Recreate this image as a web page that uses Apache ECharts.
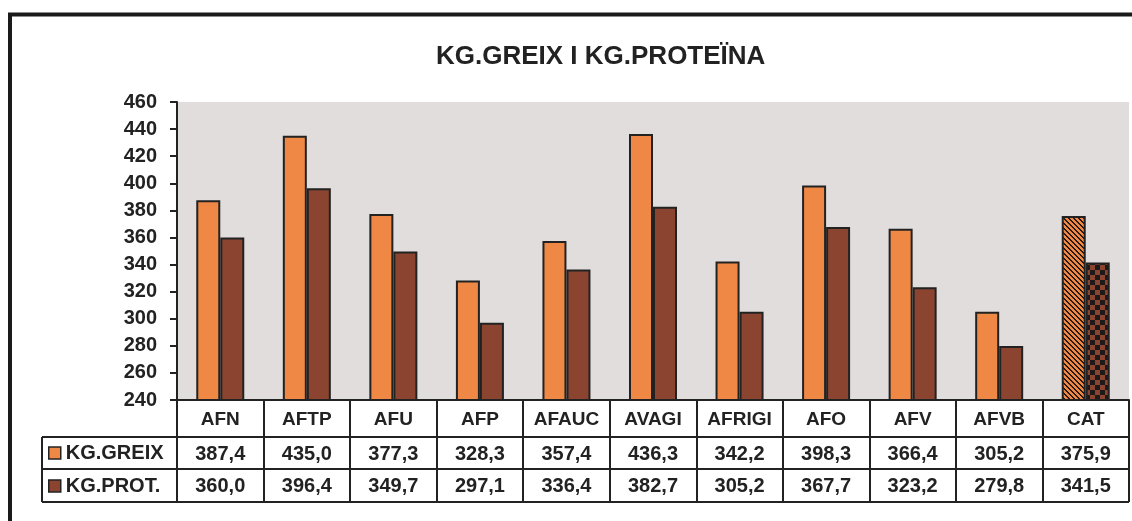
<!DOCTYPE html>
<html><head><meta charset="utf-8">
<script src="https://cdn.jsdelivr.net/npm/echarts@6/dist/echarts.min.js"></script>
<style>html,body{margin:0;padding:0;background:#fff}#c{width:1132px;height:521px}</style>
</head><body><div id="c"></div>
<script>
const title = 'KG.GREIX I KG.PROTEÏNA';
const categories = ['AFN','AFTP','AFU','AFP','AFAUC','AVAGI','AFRIGI','AFO','AFV','AFVB','CAT'];
const seriesNames = ['KG.GREIX','KG.PROT.'];
const greix = [387.4,435.0,377.3,328.3,357.4,436.3,342.2,398.3,366.4,305.2,375.9];
const prot  = [360.0,396.4,349.7,297.1,336.4,382.7,305.2,367.7,323.2,279.8,341.5];
const yTicks = [240,260,280,300,320,340,360,380,400,420,440,460];

const ORANGE = '#EF8845', BROWN = '#8A4430', DARK = '#222222';
const FONT = 'Liberation Sans, Arial, sans-serif';

function makeStripes(bg, fg, p, w) {
  const c = document.createElement('canvas'); c.width = p; c.height = p;
  const ctx = c.getContext('2d'); const img = ctx.createImageData(p, p);
  const pb = hex(bg), pf = hex(fg);
  for (let y = 0; y < p; y++) for (let x = 0; x < p; x++) {
    const on = (((x - y) % p) + p) % p < w; const col = on ? pf : pb; const i = (y * p + x) * 4;
    img.data[i] = col[0]; img.data[i+1] = col[1]; img.data[i+2] = col[2]; img.data[i+3] = 255;
  }
  ctx.putImageData(img, 0, 0); return c;
}
function makeChecker(a, b, s) {
  const c = document.createElement('canvas'); c.width = 2*s; c.height = 2*s;
  const ctx = c.getContext('2d');
  ctx.fillStyle = a; ctx.fillRect(0,0,2*s,2*s);
  ctx.fillStyle = b; ctx.fillRect(0,0,s,s); ctx.fillRect(s,s,s,s);
  return c;
}
function hex(h) { h = h.replace('#',''); return [parseInt(h.substr(0,2),16),parseInt(h.substr(2,2),16),parseInt(h.substr(4,2),16)]; }
const stripePat = makeStripes(ORANGE, '#2a1a14', 5, 2);
const checkPat = makeChecker(BROWN, '#1e1a1a', 5);

const fmt = v => v.toFixed(1).replace('.', ',');
const last = categories.length - 1;

const gridL = 177, gridR = 3, gridT = 102, gridB = 121;

const chart = echarts.init(document.getElementById('c'), null, {renderer: 'canvas'});
const barBorder = {borderColor: DARK, borderWidth: 2};
chart.setOption({
  animation: false,
  backgroundColor: '#fff',
  title: {text: title, left: 431, top: 39, textStyle: {fontFamily: FONT, fontSize: 26, fontWeight: 'bold', color: '#222'}},
  grid: {left: gridL, right: gridR, top: gridT, bottom: gridB, show: true, backgroundColor: '#E0DDDC', borderWidth: 0},
  legend: {orient: 'vertical', left: 48, top: 443, padding: 0, itemWidth: 12, itemHeight: 12, itemGap: 13, icon: 'rect',
    textStyle: {fontFamily: FONT, fontSize: 20, lineHeight: 20, fontWeight: 'bold', color: '#222'}, selectedMode: false,
    data: seriesNames.map((n, i) => ({name: n, itemStyle: {color: i ? BROWN : ORANGE, borderColor: DARK, borderWidth: 1.5}}))},
  xAxis: {type: 'category', data: categories,
    axisLine: {show: true, lineStyle: {color: DARK, width: 2}},
    axisTick: {show: true, length: 102, lineStyle: {color: DARK, width: 2}},
    axisLabel: {margin: 10, fontFamily: FONT, fontSize: 19, fontWeight: 'bold', color: '#222'}},
  yAxis: {type: 'value', min: yTicks[0], max: yTicks[yTicks.length-1], interval: 20,
    axisLine: {show: true, lineStyle: {color: DARK, width: 2}},
    axisTick: {show: true, length: 7, lineStyle: {color: DARK, width: 2}},
    splitLine: {show: false},
    axisLabel: {margin: 20, fontFamily: FONT, fontSize: 20, fontWeight: 'bold', color: '#222'}},
  series: [
    {name: seriesNames[0], type: 'bar', barWidth: 24, barGap: '0%',
      itemStyle: Object.assign({color: ORANGE}, barBorder),
      data: greix.map((v, i) => i === last ? {value: v, itemStyle: {color: {image: stripePat, repeat: 'repeat'}}} : v)},
    {name: seriesNames[1], type: 'bar', barWidth: 24, barGap: '0%',
      itemStyle: Object.assign({color: BROWN}, barBorder),
      data: prot.map((v, i) => i === last ? {value: v, itemStyle: {color: {image: checkPat, repeat: 'repeat'}}} : v)}
  ]
});

// data table (rows below the category header) built from the axis scale
const W = chart.getWidth(), H = chart.getHeight();
const x0 = gridL, x1 = W - gridR, yAxisPix = H - gridB;
const rowTop = [yAxisPix + 37, yAxisPix + 69], rowBot = yAxisPix + 102;
const legendLeft = 42;
const elems = [];
const line = (xa, ya, xb, yb) => ({type: 'line', shape: {x1: xa, y1: ya, x2: xb, y2: yb}, style: {stroke: DARK, lineWidth: 2}, silent: true});
elems.push(line(legendLeft, rowTop[0], x1, rowTop[0]));
elems.push(line(legendLeft, rowTop[1], x1, rowTop[1]));
elems.push(line(legendLeft, rowBot, x1, rowBot));
elems.push(line(legendLeft, rowTop[0], legendLeft, rowBot));
[greix, prot].forEach((arr, r) => {
  const yc = r === 0 ? (rowTop[0] + rowTop[1]) / 2 : (rowTop[1] + rowBot) / 2;
  arr.forEach((v, i) => {
    const xc = chart.convertToPixel({xAxisIndex: 0}, i);
    elems.push({type: 'text', x: xc, y: yc + 1, silent: true,
      style: {text: fmt(v), align: 'center', verticalAlign: 'middle', font: 'bold 20px ' + FONT, fill: '#222'}});
  });
});
// outer frame
elems.push({type: 'rect', shape: {x: 10, y: 14.5, width: 1300, height: 700}, style: {fill: null, stroke: '#1a1a1a', lineWidth: 4}, silent: true, z: 100});
chart.setOption({graphic: elems});
</script></body></html>
